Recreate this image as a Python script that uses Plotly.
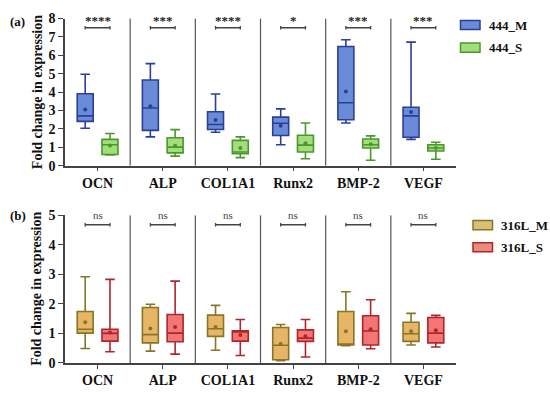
import plotly.graph_objects as go

categories = ["OCN", "ALP", "COL1A1", "Runx2", "BMP-2", "VEGF"]

# Panel (a): 444 stainless steel
m444_lower = [2.04, 1.57, 1.82, 1.14, 2.32, 1.43]
m444_q1 = [2.41, 1.92, 1.97, 1.64, 2.50, 1.55]
m444_median = [2.71, 3.14, 2.24, 2.31, 3.42, 2.71]
m444_q3 = [3.91, 4.66, 2.93, 2.64, 6.48, 3.18]
m444_upper = [4.97, 5.55, 3.90, 3.09, 6.85, 6.72]
m444_mean = [3.06, 3.23, 2.48, 2.17, 4.03, 2.92]

s444_lower = [0.58, 0.52, 0.44, 0.38, 0.30, 0.35]
s444_q1 = [0.61, 0.70, 0.65, 0.75, 0.96, 0.80]
s444_median = [1.14, 1.01, 0.75, 1.12, 1.14, 0.96]
s444_q3 = [1.43, 1.52, 1.38, 1.66, 1.45, 1.14]
s444_upper = [1.75, 1.96, 1.57, 2.32, 1.62, 1.28]
s444_mean = [1.10, 1.08, 0.96, 1.22, 1.17, 0.96]

# Panel (b): 316L stainless steel
m316_lower = [0.49, 0.40, 0.43, 0.08, 0.58, 0.61]
m316_q1 = [1.01, 0.68, 0.90, 0.11, 0.61, 0.73]
m316_median = [1.14, 0.96, 1.16, 0.60, 0.62, 0.99]
m316_q3 = [1.74, 1.88, 1.62, 1.20, 1.74, 1.38]
m316_upper = [2.92, 1.99, 1.95, 1.30, 2.41, 1.68]
m316_mean = [1.38, 1.17, 1.22, 0.64, 1.07, 1.07]

s316_lower = [0.38, 0.30, 0.25, 0.20, 0.48, 0.54]
s316_q1 = [0.74, 0.72, 0.74, 0.73, 0.61, 0.68]
s316_median = [1.00, 1.01, 1.05, 0.84, 1.08, 1.01]
s316_q3 = [1.14, 1.64, 1.09, 1.12, 1.60, 1.54]
s316_upper = [2.83, 2.77, 1.47, 1.47, 2.14, 1.61]
s316_mean = [1.03, 1.22, 0.95, 0.90, 1.14, 1.11]

sig_top = ["****", "***", "****", "*", "***", "***"]
sig_bottom = ["ns", "ns", "ns", "ns", "ns", "ns"]

FONT = "Liberation Serif"
OFF = 0.19
BW = 0.245

fig = go.Figure()

def add_series(name, lower, q1, med, q3, upper, mean, offset, fill, line, xa, ya):
    xs = [i + offset for i in range(len(categories))]
    fig.add_trace(go.Box(
        name=name, x=xs, lowerfence=lower, q1=q1, median=med, q3=q3,
        upperfence=upper, width=BW, whiskerwidth=0.6, boxpoints=False,
        fillcolor=fill, line=dict(color=line, width=1.6),
        xaxis=xa, yaxis=ya, showlegend=False))
    fig.add_trace(go.Scatter(
        x=xs, y=mean, mode="markers", marker=dict(size=4, color=line),
        xaxis=xa, yaxis=ya, showlegend=False, hoverinfo="skip"))

BLUE_F, BLUE_L = "#6a8bd8", "#2b3f99"
GREEN_F, GREEN_L = "#a3dd7c", "#4a982c"
OLIVE_F, OLIVE_L = "#e6b566", "#857628"
RED_F, RED_L = "#f27676", "#b0262a"

add_series("444_M", m444_lower, m444_q1, m444_median, m444_q3, m444_upper, m444_mean, -OFF, BLUE_F, BLUE_L, "x", "y")
add_series("444_S", s444_lower, s444_q1, s444_median, s444_q3, s444_upper, s444_mean, OFF, GREEN_F, GREEN_L, "x", "y")
add_series("316L_M", m316_lower, m316_q1, m316_median, m316_q3, m316_upper, m316_mean, -OFF, OLIVE_F, OLIVE_L, "x2", "y2")
add_series("316L_S", s316_lower, s316_q1, s316_median, s316_q3, s316_upper, s316_mean, OFF, RED_F, RED_L, "x2", "y2")

W, H = 550, 395
def px(x):
    return x / W
def py(y):
    return 1 - y / H

axis_common = dict(
    range=[-0.5, 5.5], tickmode="array", tickvals=list(range(6)),
    ticktext=["<b>" + c + "</b>" for c in categories],
    showline=True, linecolor="#444", linewidth=1.5, ticks="outside", ticklen=4,
    tickcolor="#444", showgrid=False, zeroline=False, ticklabelstandoff=0,
    tickfont=dict(family=FONT, size=14, color="#111"))
yaxis_common = dict(
    showline=True, linecolor="#444", linewidth=1.5, ticks="outside", ticklen=5,
    tickcolor="#444", showgrid=False, zeroline=False, dtick=1,
    tickfont=dict(family=FONT, size=14, color="#111", weight="bold"))

fig.update_layout(
    width=W, height=H, margin=dict(l=0, r=0, t=0, b=0),
    paper_bgcolor="white", plot_bgcolor="white", showlegend=False,
    xaxis=dict(domain=[px(65), px(456)], anchor="y", **axis_common),
    yaxis=dict(domain=[py(165), py(12)], range=[0, 8], anchor="x", **yaxis_common),
    xaxis2=dict(domain=[px(65), px(456)], anchor="y2", **axis_common),
    yaxis2=dict(domain=[py(370), py(216.5)], range=[0, 5], anchor="x2", **yaxis_common),
)

shapes = []
annotations = []

def panel_decor(xref, yref, ytop, ybar, ytext, sigs, sigfont, capH):
    for i in range(5):
        shapes.append(dict(type="line", xref=xref, yref=yref, x0=i + 0.5, x1=i + 0.5,
                           y0=0, y1=ytop, line=dict(color="#555", width=1.2)))
    for i, s in enumerate(sigs):
        x0, x1 = i - OFF, i + OFF
        shapes.append(dict(type="line", xref=xref, yref=yref, x0=x0, x1=x1, y0=ybar, y1=ybar,
                           line=dict(color="#444", width=1.3)))
        for xx in (x0, x1):
            shapes.append(dict(type="line", xref=xref, yref=yref, x0=xx, x1=xx,
                               y0=ybar - capH, y1=ybar + capH, line=dict(color="#444", width=1.3)))
        annotations.append(dict(x=i, y=ytext, xref=xref, yref=yref, text=s, showarrow=False,
                                font=sigfont, yanchor="middle"))

panel_decor("x", "y", 8, 7.5, 7.88, sig_top, dict(family=FONT, size=13, color="#222", weight="bold"), 0.1)
panel_decor("x2", "y2", 5, 4.68, 5.0, sig_bottom, dict(family=FONT, size=11, color="#444"), 0.06)

# y-axis titles
for yc in (py(88.5), py(293)):
    annotations.append(dict(x=px(37), y=yc, xref="paper", yref="paper", text="<b>Fold change in expression</b>",
                            textangle=-90, showarrow=False, font=dict(family=FONT, size=14, color="#111"),
                            xanchor="center", yanchor="middle"))
# panel labels
annotations.append(dict(x=px(8), y=py(15), xref="paper", yref="paper", text="<b>(a)</b>", showarrow=False,
                        xanchor="left", yanchor="middle", font=dict(family=FONT, size=13, color="#111")))
annotations.append(dict(x=px(8), y=py(217), xref="paper", yref="paper", text="<b>(b)</b>", showarrow=False,
                        xanchor="left", yanchor="middle", font=dict(family=FONT, size=13, color="#111")))

# manual legends
legend_items = [
    ("444_M", 460.5, 14, BLUE_F, BLUE_L),
    ("444_S", 460.5, 37.5, GREEN_F, GREEN_L),
    ("316L_M", 473, 222, "#d9c072", OLIVE_L),
    ("316L_S", 473, 245, "#e88c80", RED_L),
]
for name, lx, ly, fill, line in legend_items:
    shapes.append(dict(type="rect", xref="paper", yref="paper", x0=px(lx), x1=px(lx + 19.5),
                       y0=py(ly + 9.5), y1=py(ly), fillcolor=fill, line=dict(color=line, width=1.5)))
    annotations.append(dict(x=px(lx + 26), y=py(ly + 4.75), xref="paper", yref="paper",
                            text="<b>" + name + "</b>", showarrow=False, xanchor="left", yanchor="middle",
                            font=dict(family=FONT, size=13, color="#111")))

fig.update_layout(shapes=shapes, annotations=annotations)
fig.write_html("out.html", config={"displayModeBar": False},
               post_script="document.body.style.margin='0';document.body.style.overflow='hidden';")
